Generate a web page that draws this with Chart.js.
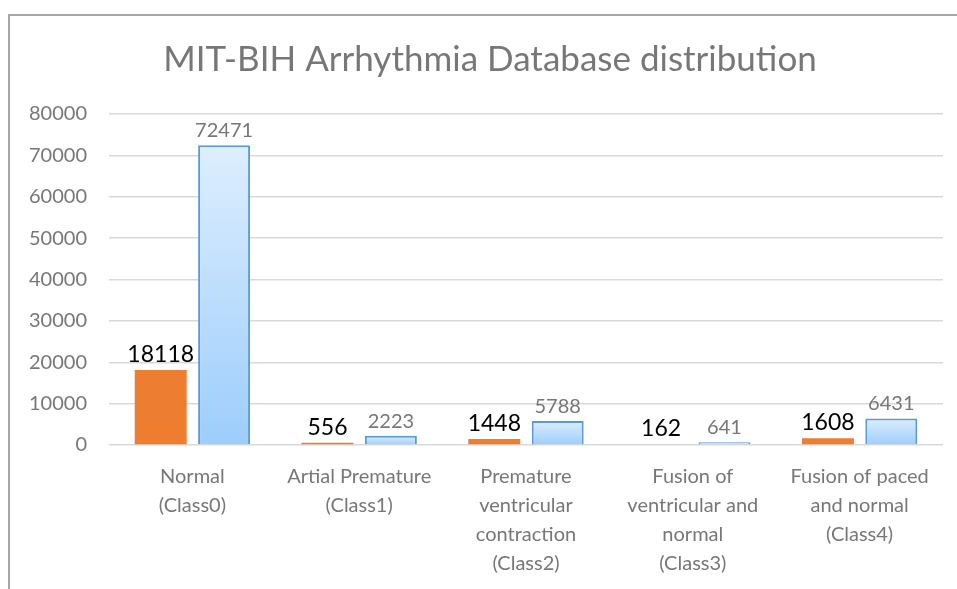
<!DOCTYPE html>
<html>
<head>
<meta charset="utf-8">
<title>MIT-BIH Arrhythmia Database distribution</title>
<script src="https://cdn.jsdelivr.net/npm/chart.js@4"></script>
<style>
  html, body { margin: 0; padding: 0; background: #fff; }
  #wrap { position: relative; width: 957px; height: 589px; }
</style>
</head>
<body>
<div id="wrap"><canvas id="myChart" width="957" height="589"></canvas></div>
<script>

const chartTitle = 'MIT-BIH Arrhythmia Database distribution';

const categories = [
    ['Normal', '(Class0)'],
    ['Artial Premature', '(Class1)'],
    ['Premature', 'ventricular', 'contraction', '(Class2)'],
    ['Fusion of', 'ventricular and', 'normal', '(Class3)'],
    ['Fusion of paced', 'and normal', '(Class4)'],
];

const orangeValues = [18118, 556, 1448, 162, 1608];
const blueValues = [72471, 2223, 5788, 641, 6431];

const yTicks = [0, 10000, 20000, 30000, 40000, 50000, 60000, 70000, 80000];

const textGray = '#777777';

// light-to-darker blue gradient over each bar's own height
function blueFill(ctx) {
    const chart = ctx.chart;
    const y = chart.scales && chart.scales.y;
    if (!y || ctx.raw === undefined) return '#b7dafd';
    const top = y.getPixelForValue(ctx.raw);
    const bottom = y.getPixelForValue(0);
    if (!isFinite(top) || bottom - top < 1) return '#b7dafd';
    const g = chart.ctx.createLinearGradient(0, top, 0, bottom);
    g.addColorStop(0, '#ddeefe');
    g.addColorStop(1, '#9dcdfc');
    return g;
}

// frame (left and top only, like the source) and the title
const framePlugin = {
    id: 'frame',
    beforeDraw(chart) {
        const c = chart.ctx;
        c.save();
        c.strokeStyle = '#a6a6a6';
        c.lineWidth = 2;
        c.beginPath();
        c.moveTo(9, 589);
        c.lineTo(9, 15);
        c.lineTo(957, 15);
        c.stroke();

        c.font = '35px Lato';
        c.fillStyle = textGray;
        c.textAlign = 'center';
        c.textBaseline = 'middle';
        c.fillText(chartTitle, 490, 60);
        c.restore();
    }
};

// value labels above the bars
const valueLabels = {
    id: 'valueLabels',
    afterDatasetsDraw(chart) {
        const c = chart.ctx;
        const styles = [
            { font: '23px Lato', color: '#000000', gap: 8 },
            { font: '20px Lato', color: textGray, gap: 8 },
        ];
        chart.data.datasets.forEach((ds, i) => {
            const meta = chart.getDatasetMeta(i);
            const s = styles[i];
            c.save();
            c.font = s.font;
            c.fillStyle = s.color;
            c.textAlign = 'center';
            c.textBaseline = 'alphabetic';
            meta.data.forEach((bar, j) => {
                c.fillText(String(ds.data[j]), bar.x, bar.y - s.gap);
            });
            c.restore();
        });
    }
};

const data = {
    labels: categories,
    datasets: [{
        label: 'Original',
        data: orangeValues,
        backgroundColor: '#ed7d31',
        borderWidth: 0,
    }, {
        label: 'Augmented',
        data: blueValues,
        backgroundColor: blueFill,
        borderColor: '#5b9bd5',
        borderWidth: 2,
    }]
};

const config = {
    type: 'bar',
    data: data,
    options: {
        responsive: false,
        animation: false,
        datasets: {
            bar: {
                categoryPercentage: 0.76,
                barPercentage: 0.82,
            }
        },
        layout: {
            padding: { left: 0, right: 14, top: 114, bottom: 0 }
        },
        plugins: {
            legend: { display: false },
            tooltip: { enabled: false },
            title: { display: false }
        },
        scales: {
            x: {
                grid: { display: false, drawTicks: false },
                border: { display: false },
                ticks: {
                    color: textGray,
                    font: { family: 'Lato', size: 20, lineHeight: 29 / 20 },
                    padding: 17.5,
                    autoSkip: false,
                    maxRotation: 0,
                    minRotation: 0,
                },
                afterFit(scale) { scale.height = 144; }
            },
            y: {
                min: 0,
                max: 80000,
                afterBuildTicks(scale) {
                    scale.ticks = yTicks.map(v => ({ value: v }));
                },
                grid: { color: '#d9d9d9', lineWidth: 1.5, drawTicks: false },
                border: { display: false },
                ticks: {
                    color: textGray,
                    font: { family: 'Lato', size: 20 },
                    padding: 22,
                    callback: (v) => String(v),
                },
                afterFit(scale) { scale.width = 109; }
            }
        }
    },
    plugins: [framePlugin, valueLabels]
};

var myChart = new Chart(document.getElementById('myChart'), config);

</script>
</body>
</html>
